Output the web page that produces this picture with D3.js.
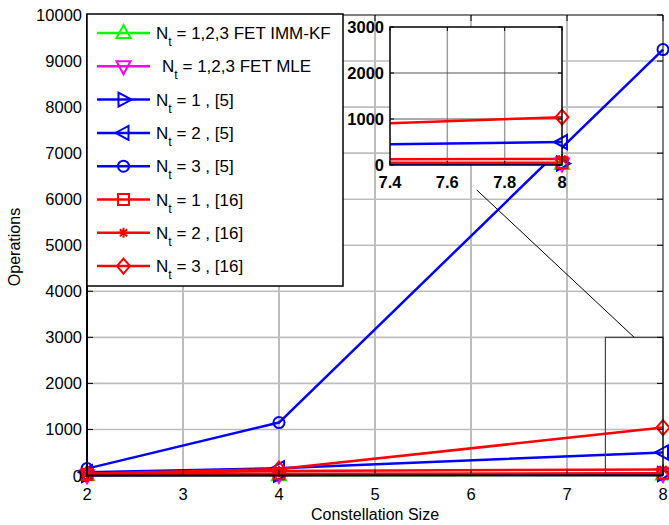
<!DOCTYPE html>
<html lang="en">
<head>
  <meta charset="UTF-8">
  <title>operations vs constellation size</title>
  <script src="https://cdn.jsdelivr.net/npm/d3@7/dist/d3.min.js"></script>
  <style>
    body { margin: 0; background: #fff; }
    text { font-family: "Liberation Sans", Arial, sans-serif; fill: #000; }
  </style>
</head>
<body>
  <svg width="669" height="525"></svg>
  <script>
    // data
    var sizes = [2, 4, 8]
    var immKF = [3, 8, 20]
    var mle = [5, 12, 30]
    var nt1Ref5 = [8, 16, 32]
    var nt2Ref5 = [70, 160, 500]
    var nt3Ref5 = [150, 1150, 9250]
    var nt1Ref16 = [20, 40, 50]
    var nt2Ref16 = [40, 100, 130]
    var nt3Ref16 = [40, 140, 1040]

    var xTicks = [2, 3, 4, 5, 6, 7, 8]
    var yTicks = [0, 1000, 2000, 3000, 4000, 5000, 6000, 7000, 8000, 9000, 10000]
    var insetXTicks = [7.4, 7.6, 7.8, 8]
    var insetYTicks = [0, 1000, 2000, 3000]

    var legendText = [
      ' = 1,2,3 FET IMM-KF',
      ' = 1,2,3 FET MLE',
      ' = 1 , [5]',
      ' = 2 , [5]',
      ' = 3 , [5]',
      ' = 1 , [16]',
      ' = 2 , [16]',
      ' = 3 , [16]'
    ]

    var series = [
      { values: immKF, color: '#00ff00', marker: 'up' },
      { values: mle, color: '#ff00ff', marker: 'down' },
      { values: nt1Ref5, color: '#0000ff', marker: 'right' },
      { values: nt2Ref5, color: '#0000ff', marker: 'left' },
      { values: nt3Ref5, color: '#0000ff', marker: 'circle' },
      { values: nt1Ref16, color: '#ff0000', marker: 'square' },
      { values: nt2Ref16, color: '#ff0000', marker: 'star' },
      { values: nt3Ref16, color: '#ff0000', marker: 'diamond' }
    ]
    series.forEach(function (s, i) {
      s.label = legendText[i]
      s.points = sizes.map(function (x, j) { return { x: x, y: s.values[j] } })
    })

    var svg = d3.select('svg')

    // marker shapes centred on 0,0
    function markerPath(type) {
      switch (type) {
        case 'up': return 'M0,-8L7,5L-7,5Z'
        case 'down': return 'M0,8L7,-5L-7,-5Z'
        case 'right': return 'M8,0L-5,7L-5,-7Z'
        case 'left': return 'M-8,0L5,7L5,-7Z'
        case 'circle': return 'M5.5,0A5.5,5.5 0 1,1 -5.5,0A5.5,5.5 0 1,1 5.5,0Z'
        case 'square': return 'M-5.5,-5.5H5.5V5.5H-5.5Z'
        case 'diamond': return 'M0,-7.5L6.5,0L0,7.5L-6.5,0Z'
        case 'star': return 'M-5,0H5M0,-5V5M-3.6,-3.6L3.6,3.6M-3.6,3.6L3.6,-3.6'
      }
    }

    function drawMarker(g, s, cx, cy) {
      g.append('path')
        .attr('d', markerPath(s.marker))
        .attr('transform', 'translate(' + cx + ',' + cy + ')')
        .attr('fill', 'none')
        .attr('stroke', s.color)
        .attr('stroke-width', 2)
    }

    // ---------- main axes ----------
    var x = d3.scaleLinear().domain([2, 8]).range([87, 663])
    var y = d3.scaleLinear().domain([0, 10000]).range([475.5, 15])

    var grid = svg.append('g')
    grid.selectAll('.vg').data(xTicks.slice(1, -1)).enter().append('line')
      .attr('x1', d => x(d)).attr('x2', d => x(d))
      .attr('y1', y(10000)).attr('y2', y(0))
      .attr('stroke', '#7a7a7a').attr('stroke-width', 1)
    grid.selectAll('.hg').data(yTicks.slice(1, -1)).enter().append('line')
      .attr('x1', x(2)).attr('x2', x(8))
      .attr('y1', d => y(d)).attr('y2', d => y(d))
      .attr('stroke', '#bdbdbd').attr('stroke-width', 1.6)

    var line = d3.line().x(d => x(d.x)).y(d => y(d.y))
    var plot = svg.append('g')
    series.forEach(function (s) {
      plot.append('path')
        .attr('d', line(s.points))
        .attr('fill', 'none')
        .attr('stroke', s.color)
        .attr('stroke-width', 2.5)
      s.points.forEach(function (p) { drawMarker(plot, s, x(p.x), y(p.y)) })
    })

    // zoom rectangle and pointer
    svg.append('rect')
      .attr('x', x(7.4)).attr('y', y(3000))
      .attr('width', x(8) - x(7.4)).attr('height', y(0) - y(3000))
      .attr('fill', 'none').attr('stroke', '#444').attr('stroke-width', 1.2)
    svg.append('line')
      .attr('x1', x(6.06)).attr('y1', y(6200))
      .attr('x2', x(7.7)).attr('y2', y(3000))
      .attr('stroke', '#000').attr('stroke-width', 1)

    // box, ticks
    var axes = svg.append('g')
    axes.append('line').attr('x1', x(2)).attr('x2', x(8)).attr('y1', y(10000)).attr('y2', y(10000))
      .attr('stroke', '#000').attr('stroke-width', 1)
    axes.append('line').attr('x1', x(8)).attr('x2', x(8)).attr('y1', y(10000)).attr('y2', y(0))
      .attr('stroke', '#000').attr('stroke-width', 1)
    axes.append('line').attr('x1', x(2)).attr('x2', x(2)).attr('y1', y(10000) - 1).attr('y2', y(0) + 1)
      .attr('stroke', '#000').attr('stroke-width', 2)
    axes.append('line').attr('x1', x(2) - 1).attr('x2', x(8)).attr('y1', y(0)).attr('y2', y(0))
      .attr('stroke', '#000').attr('stroke-width', 2)

    yTicks.forEach(function (t) {
      axes.append('line').attr('x1', x(2)).attr('x2', x(2) + 6).attr('y1', y(t)).attr('y2', y(t)).attr('stroke', '#000')
      axes.append('line').attr('x1', x(8)).attr('x2', x(8) - 6).attr('y1', y(t)).attr('y2', y(t)).attr('stroke', '#000')
      axes.append('text').attr('x', x(2) - 5).attr('y', y(t) + 6)
        .attr('text-anchor', 'end').style('font-size', '16.5px').text(t)
    })
    xTicks.forEach(function (t) {
      axes.append('line').attr('x1', x(t)).attr('x2', x(t)).attr('y1', y(0)).attr('y2', y(0) - 6).attr('stroke', '#000')
      axes.append('line').attr('x1', x(t)).attr('x2', x(t)).attr('y1', y(10000)).attr('y2', y(10000) + 6).attr('stroke', '#000')
      axes.append('text').attr('x', x(t)).attr('y', 499.5)
        .attr('text-anchor', 'middle').style('font-size', '16.5px').text(t)
    })

    axes.append('text').attr('x', 375).attr('y', 520)
      .attr('text-anchor', 'middle').style('font-size', '16px').text('Constellation Size')
    axes.append('text').attr('transform', 'translate(20,247) rotate(-90)')
      .attr('text-anchor', 'middle').style('font-size', '16px').text('Operations')

    // ---------- legend ----------
    var legend = svg.append('g')
    legend.append('rect')
      .attr('x', 87).attr('y', 14).attr('width', 256).attr('height', 272)
      .attr('fill', '#fff').attr('stroke', '#000').attr('stroke-width', 1.5)
    series.forEach(function (s, i) {
      var ly = 33 + i * 33.3
      legend.append('line').attr('x1', 97).attr('x2', 150).attr('y1', ly).attr('y2', ly)
        .attr('stroke', s.color).attr('stroke-width', 2.5)
      drawMarker(legend, s, 123.5, ly)
      var t = legend.append('text')
        .attr('x', i === 1 ? 162 : 156).attr('y', ly + 6)
        .style('font-size', '17px').style('white-space', 'pre')
      t.append('tspan').text('N')
      t.append('tspan').attr('dy', 7).style('font-size', '12.5px').text('t')
      t.append('tspan').attr('dy', -7).text(s.label)
    })

    // ---------- inset ----------
    var ix = d3.scaleLinear().domain([7.4, 8]).range([390, 562])
    var iy = d3.scaleLinear().domain([0, 3000]).range([165, 27])
    var inset = svg.append('g')
    inset.append('rect')
      .attr('x', ix(7.4)).attr('y', iy(3000))
      .attr('width', ix(8) - ix(7.4)).attr('height', iy(0) - iy(3000))
      .attr('fill', '#fff')
    inset.append('clipPath').attr('id', 'insetClip')
      .append('rect')
      .attr('x', ix(7.4)).attr('y', iy(3000))
      .attr('width', ix(8) - ix(7.4)).attr('height', iy(0) - iy(3000))
    inset.selectAll('.ivg').data(insetXTicks.slice(1, -1)).enter().append('line')
      .attr('x1', d => ix(d)).attr('x2', d => ix(d))
      .attr('y1', iy(3000)).attr('y2', iy(0))
      .attr('stroke', '#9a9a9a').attr('stroke-width', 1.4)
    inset.selectAll('.ihg').data(insetYTicks.slice(1, -1)).enter().append('line')
      .attr('x1', ix(7.4)).attr('x2', ix(8))
      .attr('y1', d => iy(d)).attr('y2', d => iy(d))
      .attr('stroke', '#555').attr('stroke-width', 1.2)

    var iline = d3.line().x(d => ix(d.x)).y(d => iy(d.y))
    var ilines = inset.append('g').attr('clip-path', 'url(#insetClip)')
    series.forEach(function (s) {
      ilines.append('path')
        .attr('d', iline(s.points))
        .attr('fill', 'none')
        .attr('stroke', s.color)
        .attr('stroke-width', 2.5)
    })
    series.forEach(function (s) {
      s.points.filter(p => p.x >= 7.4 && p.y <= 3000).forEach(function (p) {
        drawMarker(inset, s, ix(p.x), iy(p.y))
      })
    })

    inset.append('rect')
      .attr('x', ix(7.4)).attr('y', iy(3000))
      .attr('width', ix(8) - ix(7.4)).attr('height', iy(0) - iy(3000))
      .attr('fill', 'none').attr('stroke', '#000').attr('stroke-width', 1.5)
    insetYTicks.forEach(function (t) {
      inset.append('line').attr('x1', ix(7.4)).attr('x2', ix(7.4) + 4).attr('y1', iy(t)).attr('y2', iy(t)).attr('stroke', '#000')
      inset.append('line').attr('x1', ix(8)).attr('x2', ix(8) - 4).attr('y1', iy(t)).attr('y2', iy(t)).attr('stroke', '#000')
      inset.append('text').attr('x', ix(7.4) - 6).attr('y', iy(t) + 6)
        .attr('text-anchor', 'end').style('font-size', '16.5px').style('font-weight', 'bold').text(t)
    })
    insetXTicks.forEach(function (t) {
      inset.append('line').attr('x1', ix(t)).attr('x2', ix(t)).attr('y1', iy(0)).attr('y2', iy(0) - 4).attr('stroke', '#000')
      inset.append('line').attr('x1', ix(t)).attr('x2', ix(t)).attr('y1', iy(3000)).attr('y2', iy(3000) + 4).attr('stroke', '#000')
      inset.append('text').attr('x', ix(t)).attr('y', 187.5)
        .attr('text-anchor', 'middle').style('font-size', '16.5px').style('font-weight', 'bold').text(t)
    })
  </script>
</body>
</html>
